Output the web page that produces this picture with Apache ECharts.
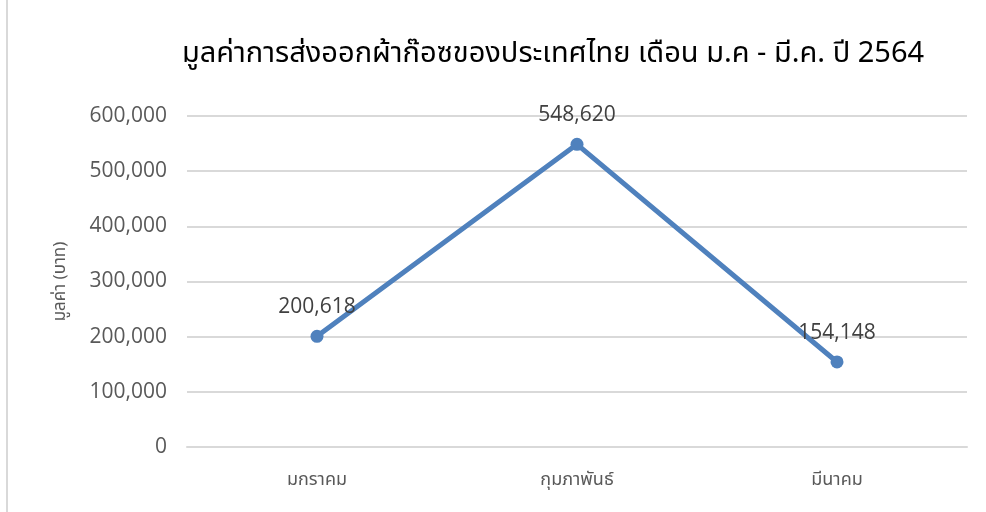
<!DOCTYPE html>
<html>
<head>
<meta charset="utf-8">
<script src="https://cdn.jsdelivr.net/npm/echarts@6/dist/echarts.min.js"></script>
<style>
  html, body { margin: 0; padding: 0; background: #fff; }
  #chart { width: 986px; height: 512px; }
  .frame { position: absolute; left: 6px; top: 0; bottom: 0; border-left: 2px solid #d9d9d9; }
</style>
</head>
<body>
<div class="frame"></div>
<div id="chart"></div>
<script>
  const months = ['มกราคม', 'กุมภาพันธ์', 'มีนาคม']
  const exportValues = [200618, 548620, 154148]
  const yTicks = [0, 100000, 200000, 300000, 400000, 500000, 600000]

  const fmt = v => v.toLocaleString('en-US')
  const thaiFont = '"Noto Sans Thai", "Noto Sans", "DejaVu Sans", sans-serif'

  const myChart = echarts.init(document.getElementById('chart'))
  const option = {
    animation: false,
    title: {
      text: 'มูลค่าการส่งออกผ้าก๊อซของประเทศไทย เดือน ม.ค - มี.ค. ปี 2564',
      left: 548,
      top: 37,
      textAlign: 'center',
      textStyle: { fontFamily: thaiFont, fontSize: 29, fontWeight: 'normal', color: '#000' }
    },
    grid: { left: 187, right: 19, top: 116, bottom: 65 },
    xAxis: {
      type: 'category',
      data: months,
      axisLine: { lineStyle: { color: '#d9d9d9', width: 2 } },
      axisTick: { show: false },
      axisLabel: { color: '#595959', fontSize: 18, fontFamily: thaiFont, margin: 25 }
    },
    yAxis: {
      type: 'value',
      min: yTicks[0],
      max: yTicks[yTicks.length - 1],
      interval: 100000,
      name: 'มูลค่า (บาท)',
      nameLocation: 'middle',
      nameGap: 117,
      nameRotate: 90,
      nameTextStyle: { color: '#595959', fontSize: 17, fontFamily: thaiFont },
      axisLine: { show: false },
      axisTick: { show: false },
      axisLabel: { color: '#595959', fontSize: 21, fontFamily: 'Open Sans, sans-serif', margin: 20, formatter: v => fmt(v) },
      splitLine: { lineStyle: { color: '#d9d9d9', width: 2 } }
    },
    series: [{
      type: 'line',
      data: exportValues,
      symbol: 'circle',
      symbolSize: 13,
      lineStyle: { color: '#4f81bd', width: 5 },
      itemStyle: { color: '#4f81bd' },
      label: {
        show: true,
        position: 'top',
        distance: 12,
        color: '#404040',
        fontSize: 21,
        fontFamily: 'Open Sans, sans-serif',
        formatter: p => fmt(p.value)
      }
    }]
  }
  option && myChart.setOption(option)
</script>
</body>
</html>
